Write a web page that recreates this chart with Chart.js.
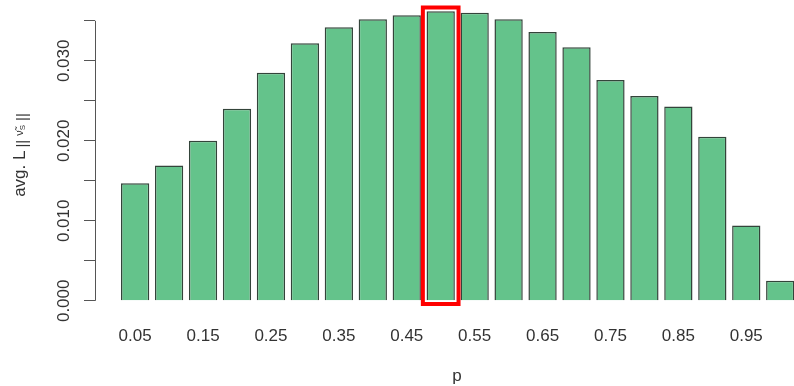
<!DOCTYPE html>
<html>
<head>
<meta charset="utf-8">
<script src="https://cdn.jsdelivr.net/npm/chart.js@4"></script>
<style>
  html, body { margin: 0; padding: 0; background: #fff; overflow: hidden; }
  #wrap { width: 820px; height: 386px; }
</style>
</head>
<body>
<div id="wrap"><canvas id="chart" width="820" height="386"></canvas></div>
<script>
// data
const pValues = [0.05, 0.10, 0.15, 0.20, 0.25, 0.30, 0.35, 0.40, 0.45, 0.50,
                 0.55, 0.60, 0.65, 0.70, 0.75, 0.80, 0.85, 0.90, 0.95, 1.00];
const avgL = [0.0147, 0.0169, 0.0200, 0.0240, 0.0285, 0.0322, 0.0342, 0.0352, 0.0357, 0.0362,
              0.0360, 0.0352, 0.0336, 0.0317, 0.0276, 0.0256, 0.0243, 0.0205, 0.0094, 0.0025];
const xTicks = [0.05, 0.15, 0.25, 0.35, 0.45, 0.55, 0.65, 0.75, 0.85, 0.95];
const yTicks = [0, 0.005, 0.010, 0.015, 0.020, 0.025, 0.030, 0.035];
const yTickLabels = ['0.000', '', '0.010', '', '0.020', '', '0.030', ''];
const highlightIndex = 9; // p = 0.50

const FONT = '"Liberation Sans", Arial, sans-serif';

// y axis line only over the tick range, like R's axis()
const yAxisLine = {
  id: 'yAxisLine',
  afterDraw(chart) {
    const ys = chart.scales.y;
    const ctx = chart.ctx;
    const x = Math.round(ys.right) + 0.5;
    ctx.save();
    ctx.strokeStyle = '#555';
    ctx.lineWidth = 1;
    ctx.beginPath();
    ctx.moveTo(x, ys.getPixelForValue(yTicks[0]));
    ctx.lineTo(x, ys.getPixelForValue(yTicks[yTicks.length - 1]));
    ctx.stroke();
    ctx.restore();
  }
};

// red box round the highlighted bar
const highlightBox = {
  id: 'highlightBox',
  afterDatasetsDraw(chart) {
    const bar = chart.getDatasetMeta(0).data[highlightIndex];
    if (!bar) return;
    const p = bar.getProps(['x', 'y', 'base', 'width'], true);
    const off = 3.7;
    const ctx = chart.ctx;
    ctx.save();
    ctx.strokeStyle = '#ff0000';
    ctx.lineWidth = 4;
    ctx.strokeRect(p.x - p.width / 2 - off, p.y - off, p.width + 2 * off, p.base - p.y + 2 * off);
    ctx.restore();
  }
};

// y title with subscript: avg. L_{||ν̃_S||}
const yTitle = {
  id: 'yTitle',
  afterDraw(chart) {
    const ctx = chart.ctx;
    ctx.save();
    ctx.translate(25, 155);
    ctx.rotate(-Math.PI / 2);
    ctx.fillStyle = '#333';
    ctx.textBaseline = 'alphabetic';
    const parts = [
      { t: 'avg. L', size: 17, dy: 0, gap: 3 },
      { t: '||', size: 15, dy: 2, gap: 4 },
      { t: 'ν̃', size: 11, dy: -2, gap: 0 },
      { t: 'S', size: 8, dy: 0, gap: 4 },
      { t: '||', size: 15, dy: 2, gap: 0 }
    ];
    let total = 0;
    parts.forEach(pt => { ctx.font = pt.size + 'px ' + FONT; pt.w = ctx.measureText(pt.t).width; total += pt.w + pt.gap; });
    let x = -total / 2;
    parts.forEach(pt => {
      ctx.font = pt.size + 'px ' + FONT;
      ctx.fillText(pt.t, x, pt.dy);
      x += pt.w + pt.gap;
    });
    ctx.restore();
  }
};

new Chart(document.getElementById('chart').getContext('2d'), {
  type: 'bar',
  data: {
    datasets: [{
      data: pValues.map((p, i) => ({ x: p, y: avgL[i] })),
      backgroundColor: '#64c38b',
      borderColor: '#33443a',
      borderWidth: 1.5,
      barPercentage: 0.833,
      categoryPercentage: 1.0
    }]
  },
  options: {
    responsive: false,
    animation: false,
    devicePixelRatio: 1,
    layout: { autoPadding: false, padding: { left: 0, right: 1, top: 0, bottom: 0 } },
    plugins: { legend: { display: false }, tooltip: { enabled: false } },
    scales: {
      x: {
        type: 'linear',
        position: 'bottom',
        offset: false,
        min: -0.0091,
        max: 1.0571,
        grid: { display: false, drawTicks: false },
        border: { display: false },
        afterBuildTicks: s => { s.ticks = xTicks.map(v => ({ value: v })); },
        afterFit: s => { s.height = 73.6; s.paddingLeft = 0; s.paddingRight = 0; },
        ticks: {
          autoSkip: false, maxRotation: 0, minRotation: 0,
          padding: 14,
          color: '#333',
          font: { family: FONT, size: 17 },
          callback: v => v.toFixed(2)
        },
        title: {
          display: true, text: 'p', color: '#333',
          font: { family: FONT, size: 17 },
          padding: { top: 0, bottom: -1 }
        }
      },
      y: {
        type: 'linear',
        position: 'left',
        min: -0.00145,
        max: 0.0376,
        border: { display: false },
        grid: { drawOnChartArea: false, drawTicks: true, tickLength: 11, color: '#555', lineWidth: 1 },
        afterBuildTicks: s => { s.ticks = yTicks.map(v => ({ value: v })); },
        afterFit: s => { s.width = 95; s.paddingTop = 0; s.paddingBottom = 0; },
        ticks: {
          autoSkip: false,
          minRotation: 90, maxRotation: 90,
          crossAlign: 'center',
          padding: -2,
          color: '#333',
          font: { family: FONT, size: 17 },
          callback: (v, i) => yTickLabels[i]
        }
      }
    }
  },
  plugins: [yAxisLine, highlightBox, yTitle]
});
</script>
</body>
</html>
